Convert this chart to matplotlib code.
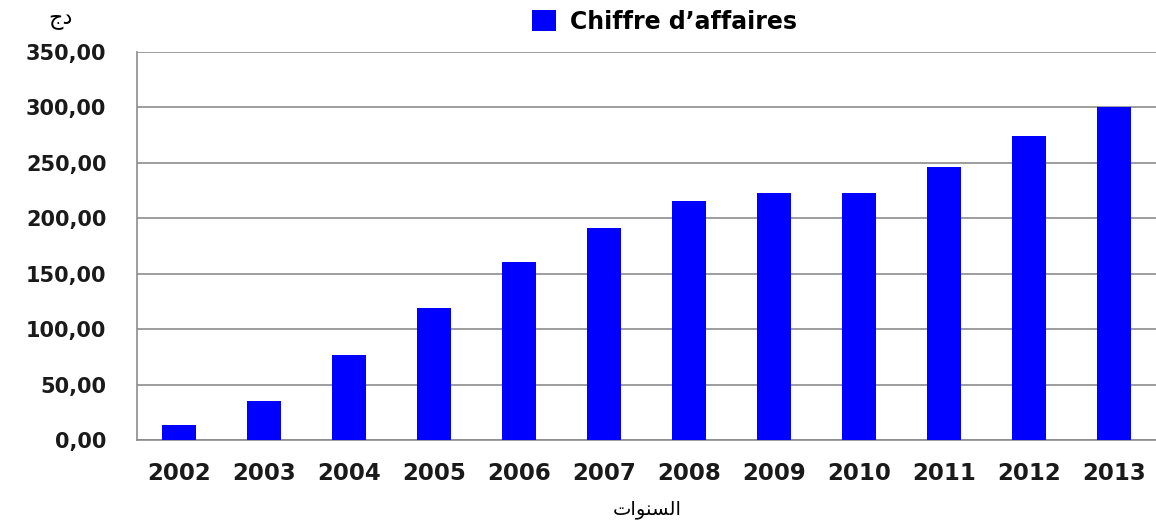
import matplotlib
matplotlib.use("Agg")
import matplotlib.pyplot as plt
from matplotlib.patches import Patch

# data
years = ["2002", "2003", "2004", "2005", "2006", "2007",
         "2008", "2009", "2010", "2011", "2012", "2013"]
chiffre_affaires = [13.5, 35.5, 76.5, 119.5, 161, 191.5,
                    216, 222.5, 222.5, 246, 274.5, 300]
y_ticks = [0, 50, 100, 150, 200, 250, 300, 350]
series_label = "Chiffre d\u2019affaires"
# Arabic labels in presentation forms (visual order) since matplotlib does no shaping
x_label = "\uFE95\uFE8D\uFEEE\uFEE8\uFEB4\uFEDF\uFE8D"   # السنوات
y_label = "\uFE9D\uFEA9"                                   # دج

blue = "#0000FF"
grid_c = "#8c8c8c"

fig = plt.figure(figsize=(11.56, 5.24), dpi=100)
ax = fig.add_axes([0.1185, 0.1603, 0.882, 0.7405])

x = range(len(years))
ax.bar(x, chiffre_affaires, width=0.4, color=blue, zorder=3)

ax.set_xlim(-0.5, len(years) - 0.5)
ax.set_ylim(0, 350)
ax.set_yticks(y_ticks)
ax.set_yticklabels([f"{v:.2f}".replace(".", ",") for v in y_ticks])
ax.set_xticks(list(x))
ax.set_xticklabels(years)

ax.grid(axis="y", color=grid_c, lw=1.2, zorder=0)
ax.tick_params(length=0)
ax.tick_params(axis="y", pad=22, labelsize=15)
ax.tick_params(axis="x", pad=16, labelsize=16.5)
for lbl in ax.get_xticklabels() + ax.get_yticklabels():
    lbl.set_fontweight("bold")
    lbl.set_color("#1a1a1a")

for side in ["top", "right"]:
    ax.spines[side].set_visible(False)
for side in ["left", "bottom"]:
    ax.spines[side].set_color(grid_c)
    ax.spines[side].set_linewidth(1.2)

fig.text(0.56, 0.028, x_label, ha="center", va="center", fontsize=14, family="DejaVu Sans")
fig.text(0.052, 0.962, y_label, ha="center", va="center", fontsize=16, family="DejaVu Sans")

handle = Patch(facecolor=blue, edgecolor="none")
fig.legend([handle], [series_label], loc="center", bbox_to_anchor=(0.575, 0.958),
           frameon=False, handlelength=1.0, handleheight=1.0, handletextpad=0.6,
           prop={"weight": "bold", "size": 17})

fig.savefig("out.png", dpi=100)
